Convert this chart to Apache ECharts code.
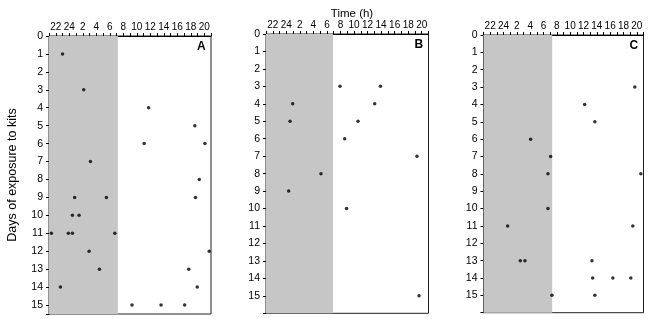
<!DOCTYPE html>
<html>
<head>
<meta charset="utf-8">
<script src="https://cdn.jsdelivr.net/npm/echarts@6/dist/echarts.min.js"></script>
<style>
  html, body { margin: 0; padding: 0; background: #fff; }
  #main { width: 650px; height: 319px; }
</style>
</head>
<body>
<div id="main"></div>
<script>
// time is in running hours: 21 = 21:00 of day n, 45 = 21:00 of day n+1
var timeLabels = ['22', '24', '2', '4', '6', '8', '10', '12', '14', '16', '18', '20'];
var panelNames = ['A', 'B', 'C'];
var nightEnd = [31.2, 30.9, 31.3];
var dayMax = [15.5, 16, 16];

var pointsA = [
  [23.0, 1], [26.15, 3], [35.75, 4], [42.6, 5], [35.1, 6], [44.1, 6],
  [27.14, 7], [43.26, 8], [24.8, 9], [29.5, 9], [42.7, 9],
  [24.47, 10], [25.45, 10], [21.35, 11], [23.87, 11], [24.47, 11], [30.75, 11],
  [26.94, 12], [44.74, 12], [28.47, 13], [41.7, 13], [22.69, 14], [42.96, 14],
  [33.3, 15], [37.6, 15], [41.1, 15]
];
var pointsB = [
  [31.93, 3], [37.9, 3], [24.94, 4], [37.05, 4], [24.55, 5], [34.59, 5],
  [32.62, 6], [43.3, 7], [29.12, 8], [24.35, 9], [32.9, 10], [43.6, 15]
];
var pointsC = [
  [43.7, 3], [36.17, 4], [37.7, 5], [28.07, 6], [31.07, 7], [30.67, 8], [44.6, 8],
  [30.67, 10], [24.62, 11], [43.4, 11], [26.52, 13], [27.22, 13], [37.27, 13],
  [37.37, 14], [40.4, 14], [43.1, 14], [31.27, 15], [37.7, 15]
];
var allPoints = [pointsA, pointsB, pointsC];

var grids = [
  {left: 49, top: 36, width: 162, height: 278},
  {left: 266, top: 34, width: 162.5, height: 279.3},
  {left: 483.5, top: 35, width: 160, height: 277.7}
];

var font = 'Liberation Sans, Arial, sans-serif';
var chart = echarts.init(document.getElementById('main'));

var xAxes = [], yAxes = [], series = [], graphics = [];
for (var i = 0; i < 3; i++) {
  var g = grids[i];
  g.show = true;
  g.borderColor = '#222';
  g.borderWidth = 1;
  g.containLabel = false;

  xAxes.push({
    gridIndex: i,
    type: 'value',
    position: 'top',
    min: 21,
    max: 45,
    interval: 1,
    axisLine: {lineStyle: {color: '#000', width: 1}},
    axisTick: {inside: false, length: 3, lineStyle: {color: '#000'}},
    splitLine: {show: false},
    axisLabel: {
      margin: 4,
      fontSize: 10,
      fontFamily: font,
      color: '#000',
      formatter: function (v) {
        if (v % 2 !== 0) return '';
        var k = (v - 22) / 2;
        return timeLabels[k] || '';
      }
    }
  });

  yAxes.push({
    gridIndex: i,
    type: 'value',
    inverse: true,
    min: 0,
    max: dayMax[i],
    interval: 1,
    name: i === 0 ? 'Days of exposure to kits' : '',
    nameLocation: 'middle',
    nameGap: 30,
    nameTextStyle: {fontSize: 12.5, fontFamily: font, color: '#000'},
    axisLine: {lineStyle: {color: '#000', width: 1}},
    axisTick: {length: 3, lineStyle: {color: '#000'}},
    splitLine: {show: false},
    axisLabel: {
      margin: 6,
      fontSize: 10.5,
      fontFamily: font,
      color: '#000',
      formatter: function (v) {
        return (v % 1 === 0 && v <= 15) ? String(v) : '';
      }
    }
  });

  series.push({
    type: 'scatter',
    xAxisIndex: i,
    yAxisIndex: i,
    data: allPoints[i],
    symbolSize: 3.5,
    clip: false,
    itemStyle: {color: '#000'},
    markArea: {
      silent: true,
      itemStyle: {color: '#c6c6c6'},
      data: [[{xAxis: 21}, {xAxis: nightEnd[i]}]]
    }
  });

  graphics.push({
    type: 'text',
    left: g.left + g.width - 14,
    top: g.top + 5,
    style: {text: panelNames[i], fontSize: 12, fontWeight: 'bold', fontFamily: font, fill: '#000'}
  });
}

var option = {
  animation: false,
  backgroundColor: '#fff',
  title: {
    text: 'Time (h)',
    left: 347,
    top: 3,
    textAlign: 'center',
    textStyle: {fontSize: 11.5, fontWeight: 'normal', fontFamily: font, color: '#000'}
  },
  grid: grids,
  xAxis: xAxes,
  yAxis: yAxes,
  series: series,
  graphic: graphics
};
chart.setOption(option);
</script>
</body>
</html>
